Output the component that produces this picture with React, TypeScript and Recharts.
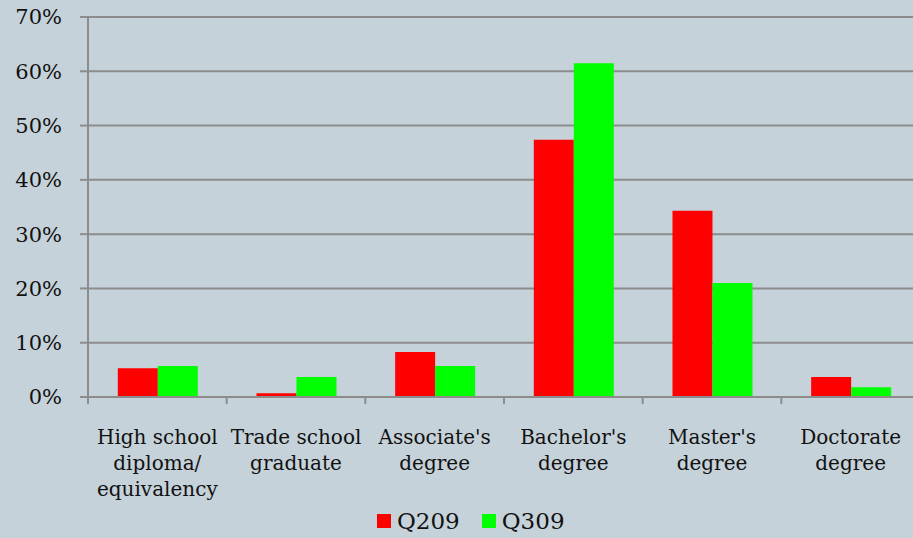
import React from "react";
import { BarChart, Bar, XAxis, YAxis, CartesianGrid, Legend } from "recharts";

// education level categories (line breaks as in the original labels)
const CATEGORIES = [
  "High school\ndiploma/\nequivalency",
  "Trade school\ngraduate",
  "Associate's\ndegree",
  "Bachelor's\ndegree",
  "Master's\ndegree",
  "Doctorate\ndegree",
];

const Q209 = [5.3, 0.7, 8.3, 47.4, 34.3, 3.7];
const Q309 = [5.7, 3.7, 5.7, 61.5, 21.0, 1.8];

const Y_TICKS = [0, 10, 20, 30, 40, 50, 60, 70];

const SERIES = [
  { key: "Q209", color: "#ff0000" },
  { key: "Q309", color: "#00ff00" },
];

const BG = "#c6d2d9";
const LINE = "#8c8c8c";
const FONT = "'DejaVu Serif', serif";

const data = CATEGORIES.map((name, i) => ({ name, Q209: Q209[i], Q309: Q309[i] }));

// category label split into lines, plus a tick mark on the left band edge
function CategoryTick(props: any) {
  const { x, y, payload } = props;
  const lines = String(payload.value).split("\n");
  const half = payload.offset ?? 0;
  return (
    <g>
      <line x1={x - half} x2={x - half} y1={y} y2={y + 7} stroke={LINE} strokeWidth={2} />
      <text x={x} y={y + 47} textAnchor="middle" fontFamily={FONT} fontSize={20} fill="#111">
        {lines.map((l, i) => (
          <tspan key={i} x={x} dy={i === 0 ? 0 : 26}>
            {l}
          </tspan>
        ))}
      </text>
    </g>
  );
}

function LegendContent() {
  return (
    <div style={{ display: "flex", alignItems: "center", fontFamily: FONT, fontSize: 23, color: "#111" }}>
      {SERIES.map((s) => (
        <div key={s.key} style={{ display: "flex", alignItems: "center", marginRight: 22 }}>
          <span style={{ width: 14, height: 14, background: s.color, display: "inline-block", marginRight: 6 }} />
          <span>{s.key}</span>
        </div>
      ))}
    </div>
  );
}

export default function App() {
  return (
    <div
      style={{
        position: "fixed",
        left: 0,
        top: 0,
        width: 913,
        height: 538,
        overflow: "hidden",
        background: BG,
      }}
    >
      <BarChart
        width={930}
        height={538}
        data={data}
        margin={{ top: 17, right: 10, left: 0, bottom: 21 }}
        barCategoryGap="21.5%"
        barGap={0}
      >
        <CartesianGrid horizontal vertical={false} stroke={LINE} strokeWidth={2} />
        <XAxis
          dataKey="name"
          interval={0}
          height={120}
          tickLine={false}
          tickSize={0}
          tickMargin={0}
          axisLine={{ stroke: LINE, strokeWidth: 2 }}
          tick={<CategoryTick />}
        />
        <YAxis
          width={88}
          domain={[0, 70]}
          ticks={Y_TICKS}
          tickFormatter={(v) => `${v}%`}
          tickSize={8}
          tickMargin={18}
          tickLine={{ stroke: LINE, strokeWidth: 2 }}
          axisLine={{ stroke: LINE, strokeWidth: 2 }}
          tick={{ fontFamily: FONT, fontSize: 21, fill: "#111" }}
        />
        <Legend
          layout="horizontal"
          verticalAlign="middle"
          content={<LegendContent />}
          wrapperStyle={{ top: 508, left: 377, width: 300, height: 30 }}
        />
        {SERIES.map((s) => (
          <Bar key={s.key} dataKey={s.key} fill={s.color} isAnimationActive={false} />
        ))}
      </BarChart>
    </div>
  );
}
